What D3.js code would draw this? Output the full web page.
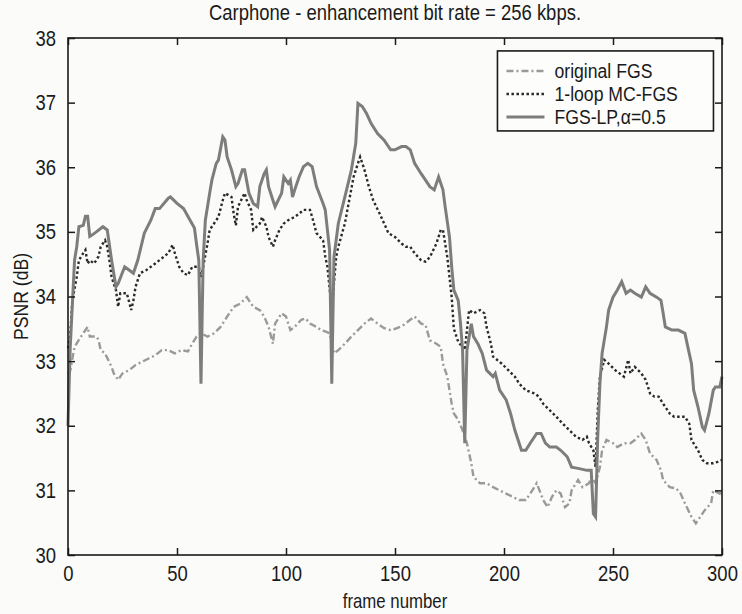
<!DOCTYPE html>
<html>
<head>
<meta charset="utf-8">
<script src="https://cdn.jsdelivr.net/npm/d3@7"></script>
<style>
  body { margin: 0; background: #fbfbf9; }
  text { font-family: "Liberation Sans", Arial, sans-serif; fill: #1a1a1a; }
</style>
</head>
<body>
<div id="chart"></div>
<script>
// original FGS
const fgsFrames = [0,1,3,5,7,9,10,13,14,15,17,20,21,23,25,28,31,34,37,40,43,46,49,52,55,57,59,61,64,67,70,73,76,79,82,85,88,90,92,94,95,98,100,102,104,107,109,111,114,116,118,120,122,124,127,130,133,136,139,142,145,148,151,154,157,159,162,164,166,169,171,172,174,176,177,179,181,183,185,186,189,192,195,198,201,204,207,210,213,215,218,220,222,224,226,228,230,231,234,236,239,240,242,244,245,247,250,252,255,258,260,263,265,267,270,272,273,276,279,281,283,286,288,290,292,295,296,299,300];
const fgsPsnr = [32.8,32.85,33.22,33.33,33.43,33.53,33.38,33.38,33.33,33.17,33.12,32.91,32.81,32.71,32.81,32.86,32.94,32.99,33.04,33.09,33.17,33.17,33.12,33.17,33.15,33.27,33.38,33.43,33.38,33.43,33.53,33.69,33.84,33.89,33.99,33.84,33.79,33.69,33.53,33.27,33.58,33.74,33.69,33.48,33.53,33.64,33.66,33.58,33.53,33.48,33.46,33.43,33.12,33.17,33.27,33.38,33.48,33.58,33.66,33.58,33.51,33.48,33.51,33.56,33.64,33.69,33.58,33.56,33.32,33.27,33.22,32.96,32.76,32.34,32.19,32.09,31.93,31.73,31.42,31.21,31.11,31.11,31.05,31.0,30.95,30.9,30.85,30.85,31.0,31.11,30.85,30.74,30.9,31.0,30.95,30.74,30.8,31.0,31.16,31.05,31.11,31.21,31.11,31.36,31.62,31.78,31.73,31.67,31.73,31.73,31.78,31.88,31.78,31.57,31.47,31.31,31.16,31.05,31.03,30.95,30.8,30.59,30.49,30.59,30.69,30.8,31.0,30.95,31.0];

// 1-loop MC-FGS
const mcFrames = [0,1,2,4,5,7,8,9,10,12,14,15,17,18,19,20,22,23,24,27,29,30,31,33,36,40,43,46,48,49,51,53,55,57,60,61,62,64,65,67,69,71,72,75,76,77,78,81,82,84,85,88,89,91,92,94,95,97,99,101,104,106,108,111,112,114,117,118,119,121,123,124,127,129,131,133,134,136,138,140,143,145,147,150,153,155,157,159,162,164,166,169,171,172,174,176,177,179,182,184,186,189,191,192,194,195,199,202,205,207,210,214,216,218,221,224,227,230,233,236,238,239,241,242,243,244,246,248,251,253,255,257,258,260,263,265,267,269,271,273,276,278,280,283,285,286,289,291,293,296,298,300];
const mcPsnr = [33.2,33.38,33.94,34.3,34.56,34.67,34.72,34.51,34.56,34.51,34.62,34.77,34.87,34.77,34.56,34.3,34.1,33.84,34.05,34.05,33.79,33.94,34.15,34.36,34.41,34.51,34.59,34.67,34.8,34.67,34.46,34.36,34.33,34.46,34.46,34.3,34.46,34.82,35.03,35.13,35.23,35.49,35.6,35.54,35.28,35.1,35.39,35.6,35.49,35.34,35.03,35.13,35.23,35.08,34.92,34.77,34.87,35.03,35.13,35.18,35.23,35.28,35.34,35.34,35.23,34.98,34.87,34.62,34.46,33.79,34.61,34.77,35.13,35.49,35.85,36.06,36.16,35.96,35.7,35.49,35.28,35.13,34.98,34.92,34.82,34.77,34.77,34.67,34.56,34.54,34.61,34.82,35.03,35.03,34.61,33.99,33.5,33.3,33.17,33.79,33.74,33.79,33.74,33.53,33.27,33.07,32.96,32.86,32.76,32.65,32.55,32.5,32.45,32.34,32.24,32.14,32.03,31.93,31.83,31.78,31.83,31.73,31.62,31.36,32.24,32.76,33.02,32.96,32.86,32.81,32.76,33.02,32.81,32.91,32.81,32.71,32.5,32.45,32.45,32.34,32.19,32.14,32.14,32.14,32.03,31.78,31.62,31.47,31.42,31.42,31.44,31.47];

// FGS-LP, alpha = 0.5
const lpFrames = [0,1,3,4,5,7,8,9,10,11,13,16,18,20,22,23,26,28,30,32,35,38,40,42,46,47,50,53,56,58,59,60,61,62,63,65,66,68,69,71,72,73,75,77,78,80,81,83,85,87,88,90,91,92,94,95,98,99,101,102,103,104,106,108,110,112,114,117,118,119,120,121,122,124,127,130,132,133,135,137,139,142,145,148,150,153,155,157,159,162,164,166,168,170,172,173,175,176,177,179,180,181,182,183,185,186,188,190,192,195,196,198,201,203,205,208,210,212,215,217,219,221,224,226,229,231,234,238,240,241,242,243,244,245,247,248,250,252,254,256,258,260,263,265,267,270,272,273,274,277,280,283,284,286,287,289,291,292,294,296,297,299,300];
const lpPsnr = [32.0,33.2,34.56,34.77,35.08,35.1,35.24,35.24,34.93,34.95,35.0,35.08,35.03,34.56,34.15,34.2,34.46,34.41,34.36,34.56,34.98,35.18,35.36,35.36,35.52,35.54,35.44,35.36,35.18,35.06,34.8,34.56,32.65,34.56,35.18,35.6,35.8,36.06,36.11,36.47,36.42,36.16,35.96,35.7,35.75,35.96,35.96,35.6,35.44,35.39,35.7,35.9,35.96,35.7,35.49,35.39,35.6,35.85,35.75,35.8,35.54,35.65,35.85,36.01,36.06,36.01,35.7,35.44,35.34,35.03,34.72,32.65,34.61,35.13,35.54,35.96,36.37,36.99,36.94,36.83,36.68,36.52,36.42,36.27,36.27,36.32,36.32,36.27,36.06,35.9,35.8,35.7,35.65,35.85,35.65,35.39,34.92,34.46,34.1,33.94,33.6,33.17,31.73,33.17,33.58,33.38,33.27,33.12,32.86,32.76,32.81,32.55,32.4,32.19,31.93,31.62,31.62,31.73,31.88,31.88,31.73,31.67,31.67,31.62,31.52,31.36,31.34,31.31,31.31,30.64,30.59,31.83,32.65,33.12,33.53,33.79,33.99,34.1,34.23,34.05,34.1,34.05,33.99,34.15,34.05,33.99,33.94,33.74,33.53,33.48,33.48,33.43,33.27,32.96,32.55,32.29,31.98,31.93,32.19,32.55,32.6,32.6,32.76];

const xTicks = [0, 50, 100, 150, 200, 250, 300];
const yTicks = [30, 31, 32, 33, 34, 35, 36, 37, 38];
const legendLabels = ["original FGS", "1-loop MC-FGS", "FGS-LP,\u03b1=0.5"];

const series = [
  { frames: fgsFrames, psnr: fgsPsnr, color: "#9a9a9a", width: 2.4, dash: "7,3,2,3" },
  { frames: mcFrames, psnr: mcPsnr, color: "#2a2a2a", width: 2.4, dash: "2.5,2.5" },
  { frames: lpFrames, psnr: lpPsnr, color: "#7d7d7d", width: 3, dash: null },
];

// the scanned figure uses a condensed face; squeeze Liberation Sans horizontally
const squeeze = 0.84;

const W = 742, H = 614;
const margin = { top: 38, right: 20, bottom: 59, left: 68 };
const width = W - margin.left - margin.right;
const height = H - margin.top - margin.bottom;

const svg = d3.select("#chart").append("svg")
  .attr("width", W)
  .attr("height", H);

const g = svg.append("g")
  .attr("transform", `translate(${margin.left},${margin.top})`);

const x = d3.scaleLinear().domain([0, 300]).range([0, width]);
const y = d3.scaleLinear().domain([30, 38]).range([height, 0]);

function narrowText(parent, px, py, size, str, anchor) {
  return parent.append("text")
    .attr("transform", `translate(${px},${py}) scale(${squeeze},1)`)
    .attr("text-anchor", anchor || "start")
    .style("font-size", size + "px")
    .text(str);
}

// series
const line = d3.line()
  .x((d) => x(d[0]))
  .y((d) => y(d[1]));

series.forEach((s) => {
  const pts = s.frames.map((f, i) => [f, s.psnr[i]]);
  g.append("path")
    .datum(pts)
    .attr("fill", "none")
    .attr("stroke", s.color)
    .attr("stroke-width", s.width)
    .attr("stroke-dasharray", s.dash)
    .attr("d", line);
});

// axes, matlab style: ticks inward on all four sides
const tickLen = 7;
const xAxisG = g.append("g")
  .attr("transform", `translate(0,${height})`)
  .call(d3.axisBottom(x).tickValues(xTicks).tickSize(-tickLen).tickPadding(tickLen + 3))
  .call((a) => a.select(".domain").remove());
g.append("g")
  .call(d3.axisTop(x).tickValues(xTicks).tickSize(-tickLen).tickFormat(""))
  .call((a) => a.select(".domain").remove());
const yAxisG = g.append("g")
  .call(d3.axisLeft(y).tickValues(yTicks).tickSize(-tickLen).tickPadding(tickLen + 5))
  .call((a) => a.select(".domain").remove());
g.append("g")
  .attr("transform", `translate(${width},0)`)
  .call(d3.axisRight(y).tickValues(yTicks).tickSize(-tickLen).tickFormat(""))
  .call((a) => a.select(".domain").remove());

g.selectAll(".tick line").attr("stroke", "#1a1a1a").attr("stroke-width", 1.5);
g.selectAll(".tick text").style("font-size", "22px").attr("fill", "#1a1a1a");
xAxisG.selectAll(".tick text").attr("transform", `scale(${squeeze},1)`);
yAxisG.selectAll(".tick text")
  .attr("x", -(tickLen + 5) / squeeze)
  .attr("transform", `scale(${squeeze},1)`);

g.append("rect")
  .attr("width", width)
  .attr("height", height)
  .attr("fill", "none")
  .attr("stroke", "#1a1a1a")
  .attr("stroke-width", 1.6);

// legend
const lg = g.append("g").attr("transform", `translate(${x(197)},${y(37.8)})`);
lg.append("rect")
  .attr("width", 216)
  .attr("height", 80)
  .attr("fill", "#fdfdfc")
  .attr("stroke", "#1a1a1a")
  .attr("stroke-width", 1.6);
legendLabels.forEach((lab, i) => {
  const s = series[i];
  const ly = 20 + i * 23;
  lg.append("line")
    .attr("x1", 9).attr("x2", 47)
    .attr("y1", ly).attr("y2", ly)
    .attr("stroke", s.color)
    .attr("stroke-width", s.width)
    .attr("stroke-dasharray", s.dash);
  narrowText(lg, 57, ly + 7, 21, lab);
});

// titles
narrowText(svg, margin.left + width / 2, 20, 22, "Carphone - enhancement bit rate = 256 kbps.", "middle");
narrowText(svg, margin.left + width / 2, 608, 20, "frame number", "middle");
svg.append("text")
  .attr("transform", `translate(28,${margin.top + height / 2}) rotate(-90) scale(${squeeze},1)`)
  .attr("text-anchor", "middle")
  .style("font-size", "21px")
  .text("PSNR (dB)");
</script>
</body>
</html>
